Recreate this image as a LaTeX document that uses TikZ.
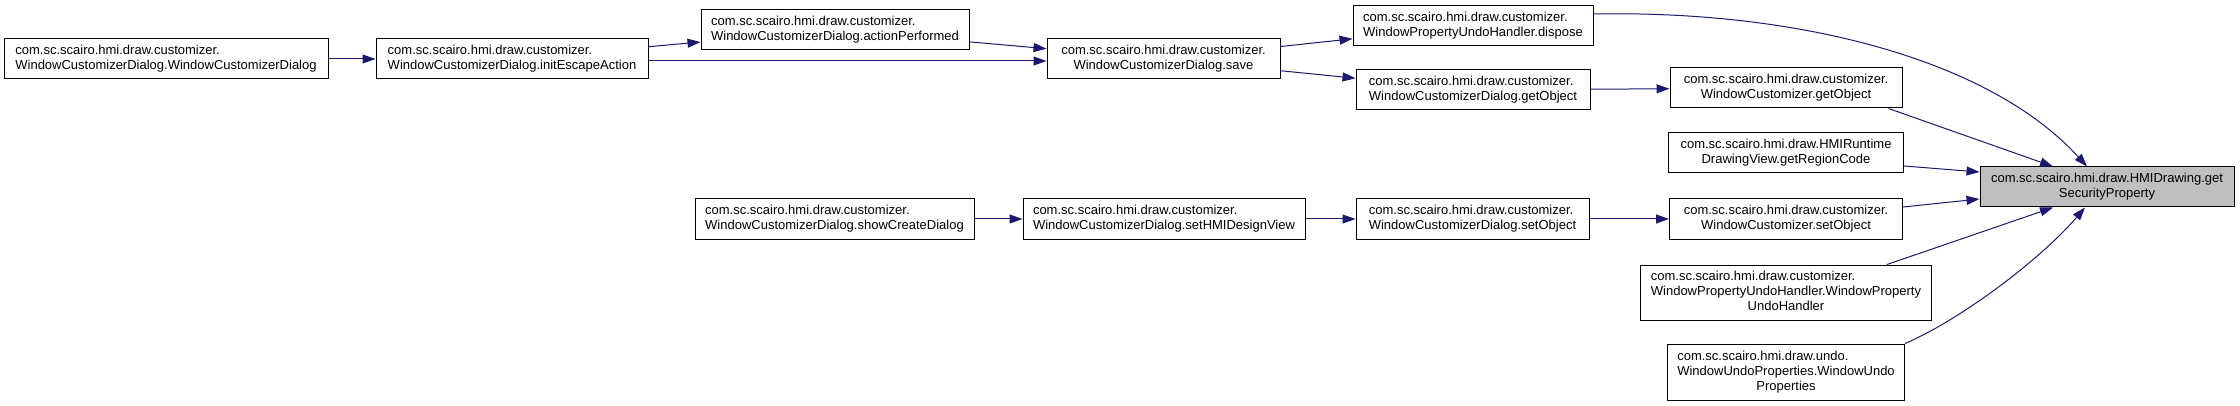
\documentclass[tikz,border=0pt]{standalone}
\usepackage{fontspec}
\setmainfont{Liberation Sans}
\usetikzlibrary{arrows.meta}
\definecolor{edgeblue}{HTML}{191970}
\definecolor{targetgray}{HTML}{BFBFBF}
\newcommand\dlab[2]{\begin{tabular}{@{}l@{}}#1\\\multicolumn{1}{@{}c@{}}{#2}\end{tabular}}
\tikzset{
  fnbox/.style={draw=black, line width=1pt, fill=white, inner sep=0pt,
    font=\fontsize{13}{15}\selectfont, minimum height=40pt},
  fntarget/.style={fnbox, fill=targetgray},
  calledge/.style={draw=edgeblue, line width=1pt, -{Triangle[length=13pt,width=9pt]}}
}
\begin{document}
\begin{tikzpicture}[x=1pt,y=-1pt]
\useasboundingbox (0,0) rectangle (2240,406);
\def\pkg{com.sc.scairo.hmi.draw.customizer.}
\node[fnbox, minimum width=324pt] (A) at (166,59) {\dlab{\pkg}{WindowCustomizerDialog.WindowCustomizerDialog}};
\node[fnbox, minimum width=272pt] (B) at (512,59) {\dlab{\pkg}{WindowCustomizerDialog.initEscapeAction}};
\node[fnbox, minimum width=268pt] (C) at (835,30) {\dlab{\pkg}{WindowCustomizerDialog.actionPerformed}};
\node[fnbox, minimum width=233pt] (D) at (1163.5,59) {\dlab{\pkg}{WindowCustomizerDialog.save}};
\node[fnbox, minimum width=240pt] (E) at (1473,26) {\dlab{\pkg}{WindowPropertyUndoHandler.dispose}};
\node[fnbox, minimum width=234pt] (F) at (1473,90) {\dlab{\pkg}{WindowCustomizerDialog.getObject}};
\node[fnbox, minimum width=232pt] (G) at (1786,88) {\dlab{\pkg}{WindowCustomizer.getObject}};
\node[fnbox, minimum width=235pt] (H) at (1786,153) {\dlab{com.sc.scairo.hmi.draw.HMIRuntime}{DrawingView.getRegionCode}};
\node[fntarget, minimum width=254pt] (T) at (2107,187) {\dlab{com.sc.scairo.hmi.draw.HMIDrawing.get}{SecurityProperty}};
\node[fnbox, minimum width=233pt] (I) at (1786,219) {\dlab{\pkg}{WindowCustomizer.setObject}};
\node[fnbox, minimum width=291pt, minimum height=55pt] (J) at (1786,292.5) {\dlab{\pkg\\WindowPropertyUndoHandler.WindowProperty}{UndoHandler}};
\node[fnbox, minimum width=237pt, minimum height=56pt] (K) at (1786,372) {\dlab{com.sc.scairo.hmi.draw.undo.\\WindowUndoProperties.WindowUndo}{Properties}};
\node[fnbox, minimum width=279pt] (L) at (834.5,219) {\dlab{\pkg}{WindowCustomizerDialog.showCreateDialog}};
\node[fnbox, minimum width=282pt] (M) at (1164,219) {\dlab{\pkg}{WindowCustomizerDialog.setHMIDesignView}};
\node[fnbox, minimum width=233pt] (N) at (1472.5,219) {\dlab{\pkg}{WindowCustomizerDialog.setObject}};

\draw[calledge] (A) -- (B);
\draw[calledge] (B) -- (C);
\draw[calledge] ([yshift=-2pt]B.east) -- ([yshift=-2pt]D.west);
\draw[calledge] (C) -- (D);
\draw[calledge] (D) -- (E);
\draw[calledge] (D) -- (F);
\draw[calledge] (F) -- (G);
\draw[calledge] (L) -- (M);
\draw[calledge] (M) -- (N);
\draw[calledge] (N) -- (I);
\draw[calledge] ([yshift=12pt]E.east) .. controls (1800,10) and (1990,60) .. ([xshift=-20pt]T.north);
\draw[calledge] ([xshift=-14pt]G.south east) -- ([xshift=-54pt]T.north);
\draw[calledge] ([yshift=-13pt]H.east) -- ([yshift=15pt]T.west);
\draw[calledge] ([yshift=12pt]I.east) -- ([yshift=-12pt]T.west);
\draw[calledge] ([xshift=101pt]J.north) -- ([xshift=-54pt]T.south);
\draw[calledge] (K.north east) .. controls (1960,320) and (2040,260) .. ([xshift=-22pt]T.south);
\end{tikzpicture}
\end{document}
